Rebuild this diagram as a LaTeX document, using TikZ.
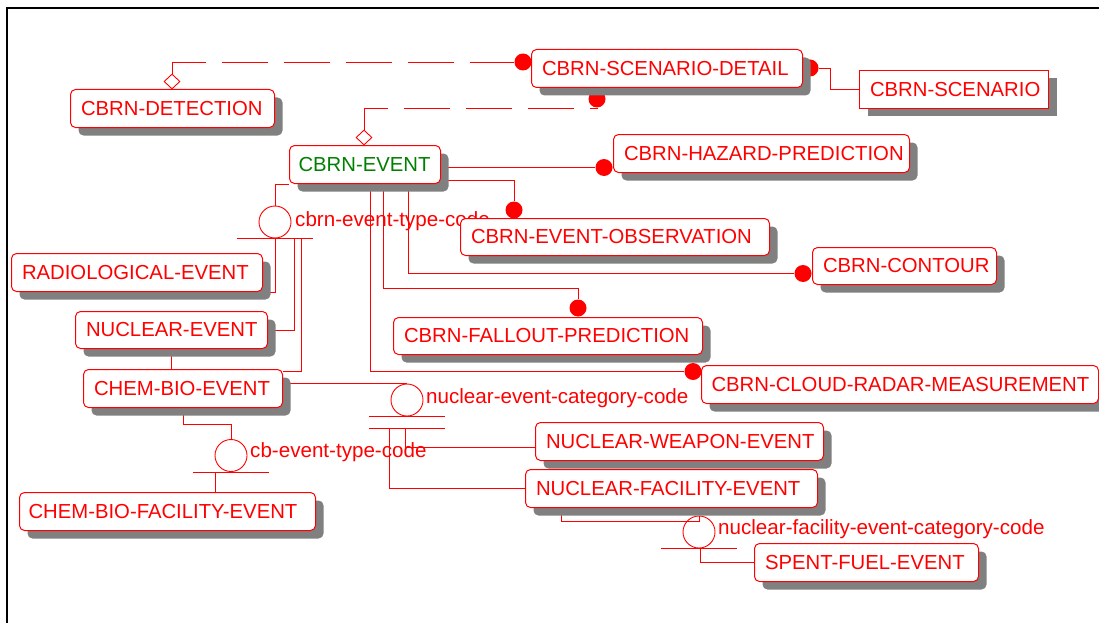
\documentclass[tikz,border=0pt]{standalone}
\usepackage{fontspec}
\setmainfont{Liberation Sans}
\usetikzlibrary{shapes.geometric,shadows}
\pgfdeclarelayer{bg}
\pgfsetlayers{bg,main}
\definecolor{ered}{RGB}{255,0,0}
\definecolor{egreen}{RGB}{0,128,0}
\definecolor{shgray}{RGB}{128,128,128}
\tikzset{
 entbox/.style={draw=ered, line width=1pt, rounded corners=5pt, fill=white, text=ered,
   font=\fontsize{20.3}{24}\selectfont, inner xsep=10.5pt, inner ysep=0pt, align=left,
   anchor=north west,
   drop shadow={shadow xshift=8pt, shadow yshift=-8pt, opacity=1, fill=shgray, draw=none}},
 link/.style={draw=ered, line width=0.9pt},
 idlink/.style={link, dash pattern=on 46pt off 16pt},
 dot/.style={circle, fill=ered, inner sep=0pt, minimum size=17pt},
 catc/.style={circle, draw=ered, line width=0.9pt, inner sep=0pt, minimum size=32pt},
 dia/.style={diamond, draw=ered, fill=white, line width=0.9pt, inner sep=0pt, minimum width=16pt, minimum height=15pt},
 lbl/.style={text=ered, font=\fontsize{20.6}{24}\selectfont, inner sep=0pt, anchor=base west},
}
\begin{document}
\begin{tikzpicture}[x=1pt,y=-1pt]
\useasboundingbox (0,0) rectangle (1099,623);
\draw[line width=1.6pt, black] (7,623) -- (7,8) -- (1099,8);

% entities
\node[entbox, text width=183pt, minimum height=38pt] (det) at (70,89) {\mbox{CBRN-DETECTION}};
\node[entbox, text width=250pt, minimum height=38pt] (sd) at (531,49) {\mbox{CBRN-SCENARIO-DETAIL}};
\node[entbox, sharp corners, text width=168pt, minimum height=38pt] (sc) at (859,70) {\mbox{CBRN-SCENARIO}};
\node[entbox, text=egreen, inner xsep=9pt, text width=133pt, minimum height=38pt] (ev) at (289,145) {\mbox{CBRN-EVENT}};
\node[entbox, text width=275pt, minimum height=38pt] (hz) at (613,134) {\mbox{CBRN-HAZARD-PREDICTION}};
\node[entbox, text width=288pt, minimum height=37pt] (obs) at (460,218) {\mbox{CBRN-EVENT-OBSERVATION}};
\node[entbox, text width=163pt, minimum height=37pt] (con) at (812,247) {\mbox{CBRN-CONTOUR}};
\node[entbox, text width=288pt, minimum height=37pt] (fo) at (393,317) {\mbox{CBRN-FALLOUT-PREDICTION}};
\node[entbox, inner xsep=10pt, text width=377pt, minimum height=38pt] (crm) at (701,365) {\mbox{CBRN-CLOUD-RADAR-MEASUREMENT}};
\node[entbox, text width=230pt, minimum height=38pt] (rad) at (11,253) {\mbox{RADIOLOGICAL-EVENT}};
\node[entbox, text width=171pt, minimum height=37pt] (nuc) at (75,311) {\mbox{NUCLEAR-EVENT}};
\node[entbox, text width=178pt, minimum height=38pt] (cb) at (83,369) {\mbox{CHEM-BIO-EVENT}};
\node[entbox, inner xsep=9pt, text width=278pt, minimum height=38pt] (cbf) at (19,492) {\mbox{CHEM-BIO-FACILITY-EVENT}};
\node[entbox, text width=267pt, minimum height=38pt] (nw) at (535,422) {\mbox{NUCLEAR-WEAPON-EVENT}};
\node[entbox, text width=271pt, minimum height=38pt] (nf) at (525,469) {\mbox{NUCLEAR-FACILITY-EVENT}};
\node[entbox, text width=203pt, minimum height=38pt] (sf) at (754,543) {\mbox{SPENT-FUEL-EVENT}};

% non-identifying relationship diamonds
\node[dia] (detdia) at (172,81.5) {};
\node[dia] (evdia) at (364,137.5) {};

\begin{pgfonlayer}{bg}
 % relationship dots
 \node[dot] (sdL) at (523,62) {};
 \node[dot] (sdR) at (810,68) {};
 \node[dot] (sdB) at (597,99) {};
 \node[dot] (hzd) at (604,167.5) {};
 \node[dot] (obsd) at (514,210) {};
 \node[dot] (cond) at (803,273.5) {};
 \node[dot] (fod) at (578,308) {};
 \node[dot] (crmd) at (693,371.5) {};

 % category symbols
 \node[catc] (c1) at (275,222) {};
 \node[catc] (c2) at (407,400) {};
 \node[catc] (c3) at (231,455.5) {};
 \node[catc] (c4) at (699,532) {};
 \draw[link] ([xshift=-38pt]c1.south) -- ([xshift=38pt]c1.south);
 \draw[link] ([xshift=-38pt]c2.south) -- ([xshift=38pt]c2.south);
 \draw[link] ([xshift=-38pt,yshift=-12pt]c2.south) -- ([xshift=38pt,yshift=-12pt]c2.south);
 \draw[link] ([xshift=-38pt]c3.south) -- ([xshift=38pt]c3.south);
 \draw[link] ([xshift=-38pt]c4.south) -- ([xshift=38pt]c4.south);

 \node[lbl] (l1) at (295,226.5) {cbrn-event-type-code};
 \node[lbl] (l2) at (426,403) {nuclear-event-category-code};
 \node[lbl] (l3) at (250,457) {cb-event-type-code};
 \node[lbl] (l4) at (718,534) {nuclear-facility-event-category-code};

 \coordinate (c1r) at ([xshift=19pt]c1.south);
 \coordinate (c1s) at ([xshift=26pt]c1.south);
 \coordinate (c2a) at ([xshift=-18pt,yshift=-12pt]c2.south);
 \coordinate (c2b) at ([xshift=-2pt,yshift=-12pt]c2.south);
 \coordinate (c3b) at ([xshift=-16pt]c3.south);
 \coordinate (c4b) at ([xshift=1pt]c4.south);

 % subtype connectors
 \draw[link] (c1.north) |- (ev.south west);
 \draw[link] (c1.south) |- (rad.south east);
 \draw[link] (c1r) |- (nuc.east);
 \draw[link] (c1s) |- ([yshift=-2pt]cb.north east);
 \draw[link] (nuc.south -| 171,0) |- (c2.north);
 \draw[link] (cb.south -| 183,0) -- (183,424) -| (c3.north);
 \draw[link] (c3b) -- (c3b |- cbf.north);
 \draw[link] (c2b) |- ([yshift=-6pt]nw.west);
 \draw[link] (c2a) |- (nf.west);
 \draw[link] (nf.south -| 561,0) -- (561,521) -| (c4.north);
 \draw[link] (c4b) |- (sf.west);

 % CBRN-EVENT relationships
 \draw[link] (ev.east |- hzd) -- (hzd);
 \draw[link] (ev.east |- 0,180) -| (obsd);
 \draw[link] (ev.south -| 408,0) |- (cond);
 \draw[link] (ev.south -| 383,0) -- (383,288) -| (fod);
 \draw[link] (ev.south -| 370,0) |- (crmd);

 % scenario relationships
 \draw[idlink] (detdia.north) |- (sdL);
 \draw[idlink] (evdia.north) -- (evdia.north |- 0,108) -| (sdB);
 \draw[link] (sdR) -- (830,68) |- (sc.west);
\end{pgfonlayer}
\end{tikzpicture}
\end{document}
